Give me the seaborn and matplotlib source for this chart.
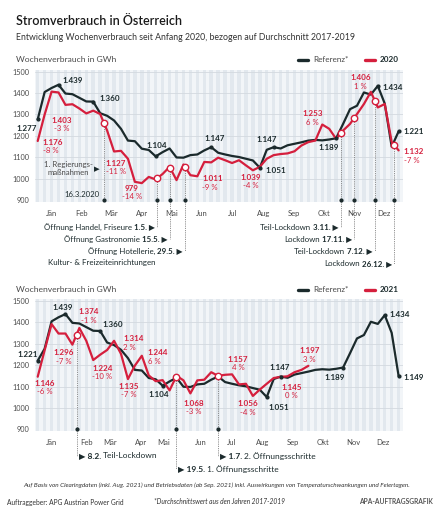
import numpy as np
import matplotlib
matplotlib.use("Agg")
import matplotlib.pyplot as plt
import matplotlib.transforms as mtransforms
import seaborn as sns

# Kalenderwochen (Position 1..53)
weeks = list(range(1, 54))
weeks_2021 = list(range(1, 41))

# Referenz = Durchschnitt 2017-2019, Wochenverbrauch in GWh
referenz_2020 = [1277, 1405, 1424, 1439, 1398, 1395, 1378, 1361, 1360, 1306,
                 1294, 1272, 1233, 1178, 1175, 1140, 1134, 1104, 1124, 1141,
                 1099, 1098, 1110, 1113, 1132, 1147, 1121, 1113, 1106, 1101,
                 1093, 1085, 1051, 1135, 1147, 1141, 1156, 1163, 1170, 1178,
                 1181, 1179, 1183, 1189, 1256, 1325, 1341, 1403, 1393, 1434,
                 1351, 1149, 1221]
verbrauch_2020 = [1176, 1300, 1407, 1403, 1345, 1348, 1328, 1305, 1318, 1302,
                  1225, 1127, 1130, 1093, 985, 979, 1008, 996, 1022, 1055,
                  993, 1066, 1016, 1011, 1078, 1076, 1098, 1086, 1073, 1086,
                  1062, 1039, 1055, 1093, 1110, 1115, 1118, 1128, 1155, 1171,
                  1178, 1253, 1233, 1186, 1225, 1256, 1302, 1349, 1406, 1333,
                  1349, 1172, 1132]
referenz_2021 = [1221, 1277, 1405, 1424, 1439, 1398, 1395, 1378, 1361, 1360,
                 1306, 1294, 1272, 1233, 1178, 1175, 1140, 1134, 1104, 1124,
                 1141, 1099, 1098, 1110, 1113, 1132, 1147, 1121, 1113, 1106,
                 1101, 1093, 1085, 1051, 1135, 1147, 1141, 1156, 1163, 1170,
                 1178, 1181, 1179, 1183, 1189, 1256, 1325, 1341, 1403, 1393,
                 1434, 1351, 1149]
verbrauch_2021 = [1146, 1270, 1392, 1348, 1348, 1296, 1374, 1314, 1224, 1249,
                  1271, 1314, 1253, 1135, 1198, 1244, 1152, 1125, 1130, 1082,
                  1150, 1129, 1068, 1129, 1132, 1167, 1150, 1155, 1157, 1110,
                  1113, 1056, 1086, 1113, 1140, 1145, 1148, 1167, 1178, 1197]

months = ["Jän", "Feb", "Mär", "Apr", "Mai", "Jun", "Jul", "Aug", "Sep", "Okt", "Nov", "Dez"]
month_len_2020 = [31, 29, 31, 30, 31, 30, 31, 31, 30, 31, 30, 31]
month_len_2021 = [31, 28, 31, 30, 31, 30, 31, 31, 30, 31, 30, 31]
yticks = [900, 1000, 1100, 1200, 1300, 1400, 1500]

# beschriftete Punkte
ref_labels_2020 = [1, 4, 9, 18, 26, 33, 35, 44, 50, 53]
red_labels_2020 = [1, 4, 12, 16, 24, 32, 42, 49, 53]
red_pct_2020 = ["-8 %", "-3 %", "-11 %", "-14 %", "-9 %", "-4 %", "6 %", "1 %", "-7 %"]
ref_labels_2021 = [1, 5, 10, 19, 34, 36, 45, 51, 53]
red_labels_2021 = [1, 6, 7, 9, 12, 14, 16, 23, 29, 32, 36, 40]
red_pct_2021 = ["-6 %", "-7 %", "-1 %", "-10 %", "2 %", "-7 %", "6 %", "-3 %", "4 %", "-4 %", "0 %", "3 %"]

# Ereignisse (Lage in Wochen)
events_2020 = [("16.3.2020", "", 10.55), ("1.5.", "Öffnung Handel, Friseure", 18.2),
               ("15.5.", "Öffnung Gastronomie", 20.05), ("29.5.", "Öffnung Hotellerie,", 22.2),
               ("3.11.", "Teil-Lockdown", 44.65), ("17.11.", "Lockdown", 46.6),
               ("7.12.", "Teil-Lockdown", 49.6), ("26.12.", "Lockdown", 52.35)]
events_2021 = [("8.2.", "Teil-Lockdown", 6.6), ("19.5.", "1. Öffnungsschritte", 20.9),
               ("1.7.", "2. Öffnungsschritte", 27.0)]

RED = "#d51f3d"
DARK = "#1b2a2c"
GREY = "#4a4a4a"
BG = "#f2f5f8"
STRIPE = "#e2e8ee"
FS = 5.3
FS_EV = 5.7

sns.set_style("white")
plt.rcParams["font.family"] = ["Lato", "DejaVu Sans"]

W, H = 441, 512
fig = plt.figure(figsize=(W / 100, H / 100), dpi=100)
fig.patch.set_facecolor("white")


def fy(px):
    return 1 - px / H


ax1 = fig.add_axes([35 / W, fy(201.5), 368 / W, 131.9 / H])
ax2 = fig.add_axes([35 / W, fy(430.8), 368 / W, 131.9 / H])


def setup(ax, mlen, nudge):
    ax.set_xlim(0.61, 53.63)
    ax.set_ylim(893, 1510)
    ax.set_facecolor(BG)
    for w in weeks:
        ax.axvspan(w - 0.25, w + 0.25, color=STRIPE, lw=0, zorder=0)
    for y in yticks[1:]:
        ax.axhline(y, color="#d3d9df", lw=0.6, zorder=0.5)
    for s in ax.spines.values():
        s.set_visible(False)
    ax.set_yticks(yticks)
    ax.set_yticklabels([str(v) for v in yticks])
    starts = np.concatenate([[1], 1 + np.cumsum(mlen)])
    bounds = 0.7 + starts / 7
    centers = (bounds[:-1] + bounds[1:]) / 2
    for i, d in nudge.items():
        centers[i] += d
    ax.set_xticks(bounds)
    ax.set_xticklabels([])
    ax.set_xticks(centers, minor=True)
    ax.set_xticklabels(months, minor=True)
    ax.tick_params(axis="y", length=0, labelsize=FS, labelcolor=GREY, pad=4)
    ax.tick_params(axis="x", which="major", length=2.5, width=0.5, color="#8a8a8a", direction="out")
    ax.tick_params(axis="x", which="minor", length=0, labelsize=FS + 0.2, labelcolor=GREY, pad=6)
    ax.set_xlabel("")
    ax.set_ylabel("")


def ref_label(ax, w, vals, dx, dy, ha):
    v = vals[w - 1]
    ax.plot(w, v, "o", ms=2, color=DARK, zorder=5)
    ax.annotate(f"{v / 1000:.3f}", (w, v), xytext=(dx, dy), textcoords="offset pixels",
                ha=ha, va="center", fontsize=FS + 0.5, fontweight="bold", color=DARK, zorder=6)


def red_label(ax, w, vals, pct, dx, dy, ha):
    v = vals[w - 1]
    txt = f"{v / 1000:.3f}" if v >= 1000 else str(v)
    ax.annotate(txt, (w, v), xytext=(dx, dy + 4), textcoords="offset pixels",
                ha=ha, va="center", fontsize=FS + 0.5, fontweight="bold", color=RED, zorder=6)
    ax.annotate(pct, (w, v), xytext=(dx, dy - 4.5), textcoords="offset pixels",
                ha=ha, va="center", fontsize=FS + 0.3, color=RED, zorder=6)


def event_line(ax, pos, red, ybottom_px):
    yv = np.interp(pos, weeks[:len(red)], red)
    ax.plot([pos, pos], [yv, 893], ls=(0, (1, 1.2)), color="#6b6b6b", lw=0.6, zorder=3)
    if ybottom_px is not None:
        tr = mtransforms.blended_transform_factory(ax.transData, fig.transFigure)
        ax.plot([pos, pos], [fy(201.5 if ax is ax1 else 430.8), fy(ybottom_px)], transform=tr,
                ls=(0, (1, 1.2)), color="#6b6b6b", lw=0.6, clip_on=False)
    ax.plot(pos, 900, "o", ms=2, color=DARK, clip_on=False, zorder=6)
    ax.plot(pos, yv, "o", ms=4.6, mfc="white", mec=RED, mew=1.0, zorder=7)


def event_text(ax, pos, ypx, bold, normal, side):
    tr = mtransforms.blended_transform_factory(ax.transData, fig.transFigure)
    if side == "left":
        t = ax.text(pos - 0.3, fy(ypx), bold + " \u25b6", transform=tr, ha="right", va="center",
                    fontsize=FS_EV, fontweight="bold", color=DARK)
        ax.annotate(normal, xy=(0, 0.5), xycoords=t, xytext=(-2, 0), textcoords="offset pixels",
                    ha="right", va="center", fontsize=FS_EV, color=DARK)
    else:
        t = ax.text(pos + 0.3, fy(ypx), "\u25b6 " + bold, transform=tr, ha="left", va="center",
                    fontsize=FS_EV + 0.3, fontweight="bold", color=DARK)
        ax.annotate(normal, xy=(1, 0.5), xycoords=t, xytext=(2, 0), textcoords="offset pixels",
                    ha="left", va="center", fontsize=FS_EV + 0.3, color=DARK)


# ---------- 2020 ----------
setup(ax1, month_len_2020, {})
sns.lineplot(x=weeks, y=referenz_2020, ax=ax1, color=DARK, lw=1.6, label="Referenz*", zorder=4)
sns.lineplot(x=weeks, y=verbrauch_2020, ax=ax1, color=RED, lw=1.6, label="2020", zorder=4)

ref_off_2020 = [(-1, -9, "right"), (4, 4, "left"), (6, 3, "left"), (1, 11, "center"),
                (3, 9, "center"), (6, -3, "left"), (-7, 8, "center"), (-8, -9, "center"),
                (5, -2, "left"), (5, 0, "left")]
for w, (dx, dy, ha) in zip(ref_labels_2020, ref_off_2020):
    ref_label(ax1, w, referenz_2020, dx, dy, ha)

red_off_2020 = [(5, -5, "left"), (3, -32, "center"), (2, -16, "center"), (-10, -9, "center"),
                (5, -6.5, "left"), (-2, -11, "center"), (-10, 7, "center"), (-10, 10, "center"),
                (5, -5.5, "left")]
for w, pct, (dx, dy, ha) in zip(red_labels_2020, red_pct_2020, red_off_2020):
    red_label(ax1, w, verbrauch_2020, pct, dx, dy, ha)

ev_y_2020 = [None, 227, 239, 251, 227, 239, 251, 264]
for (d, txt, pos), ypx in zip(events_2020, ev_y_2020):
    event_line(ax1, pos, verbrauch_2020, ypx)
    if ypx is not None:
        event_text(ax1, pos, ypx, d, txt, "left")
d0, _, p0 = events_2020[0]
ax1.text(p0 - 0.6, 928, d0, ha="right", va="center", fontsize=FS + 0.3, color=DARK)
ax1.text(9.55, 1048, "\u25b6", ha="center", va="center", fontsize=FS, color=DARK)
ax1.text(8.9, 1048, "1. Regierungs-\nmaßnahmen", ha="right", va="center", fontsize=FS + 0.3,
         color=GREY, multialignment="center", linespacing=1.1)
tr1 = mtransforms.blended_transform_factory(ax1.transData, fig.transFigure)
ax1.text(events_2020[1][2] - 0.3, fy(263), "Kultur- & Freizeiteinrichtungen", transform=tr1,
         ha="right", va="center", fontsize=FS_EV, color=DARK)

# ---------- 2021 ----------
setup(ax2, month_len_2021, {1: 0.7, 4: -1.0})
sns.lineplot(x=weeks, y=referenz_2021, ax=ax2, color=DARK, lw=1.6, label="Referenz*", zorder=4)
sns.lineplot(x=weeks_2021, y=verbrauch_2021, ax=ax2, color=RED, lw=1.6, label="2021", zorder=4)

ref_off_2021 = [(0, 6, "right"), (-3, 7, "center"), (2, 6, "left"), (-4, -9, "center"),
                (2, -10, "left"), (-1, 9, "center"), (-8, -10, "center"), (5, 1, "left"),
                (5, -1, "left")]
for w, (dx, dy, ha) in zip(ref_labels_2021, ref_off_2021):
    ref_label(ax2, w, referenz_2021, dx, dy, ha)

red_off_2021 = [(7, -10.5, "center"), (-9, -12, "center"), (9, 12, "center"), (9, -12, "center"),
                (9, -2, "left"), (1, -11, "center"), (6, -1, "left"), (3, -14, "center"),
                (6, 11, "center"), (-5, -12, "center"), (11, -14.5, "center"), (1, 11, "center")]
for w, pct, (dx, dy, ha) in zip(red_labels_2021, red_pct_2021, red_off_2021):
    red_label(ax2, w, verbrauch_2021, pct, dx, dy, ha)

ev_y_2021 = [456, 469, 456]
for (d, txt, pos), ypx in zip(events_2021, ev_y_2021):
    event_line(ax2, pos, verbrauch_2021, ypx)
    event_text(ax2, pos, ypx, d, txt, "right")

# Legenden
for ax, ypx in [(ax1, 60), (ax2, 290)]:
    h, l = ax.get_legend_handles_labels()
    leg = ax.legend(h, l, loc="center right", bbox_to_anchor=(406 / W, fy(ypx)),
                    bbox_transform=fig.transFigure, ncol=2, frameon=False, fontsize=FS + 0.6,
                    handlelength=1.25, handletextpad=0.55, columnspacing=2.0)
    for line in leg.get_lines():
        line.set_linewidth(2.4)
    leg.get_texts()[0].set_color(GREY)
    leg.get_texts()[1].set_fontweight("bold")
    leg.get_texts()[1].set_color(DARK)
    fig.text(16 / W, fy(ypx), "Wochenverbrauch in GWh", ha="left", va="center",
             fontsize=FS + 0.8, color=GREY)

# Titel und Fußzeilen
fig.text(16 / W, fy(21), "Stromverbrauch in Österreich", ha="left", va="center",
         fontsize=9, fontweight="semibold", color="#1a1a1a")
fig.text(16 / W, fy(37), "Entwicklung Wochenverbrauch seit Anfang 2020, bezogen auf Durchschnitt 2017-2019",
         ha="left", va="center", fontsize=6.35, color="#333333")
fig.text(217 / W, fy(485), "Auf Basis von Clearingdaten (inkl. Aug. 2021) und Betriebsdaten (ab Sep. 2021) "
         "inkl. Auswirkungen von Temperaturschwankungen und Feiertagen.",
         ha="center", va="center", fontsize=4.6, style="italic", color="#333333")
fig.text(7 / W, fy(502), "Auftraggeber: APG Austrian Power Grid", ha="left", va="center",
         fontsize=4.8, color="#333333")
fig.text(219 / W, fy(502), "*Durchschnittswert aus den Jahren 2017-2019", ha="center", va="center",
         fontsize=4.8, style="italic", color="#333333")
fig.text(433 / W, fy(502), "APA-AUFTRAGSGRAFIK", ha="right", va="center",
         fontsize=4.8, fontweight="bold", color="#555555")

fig.savefig("out.png", dpi=100)
